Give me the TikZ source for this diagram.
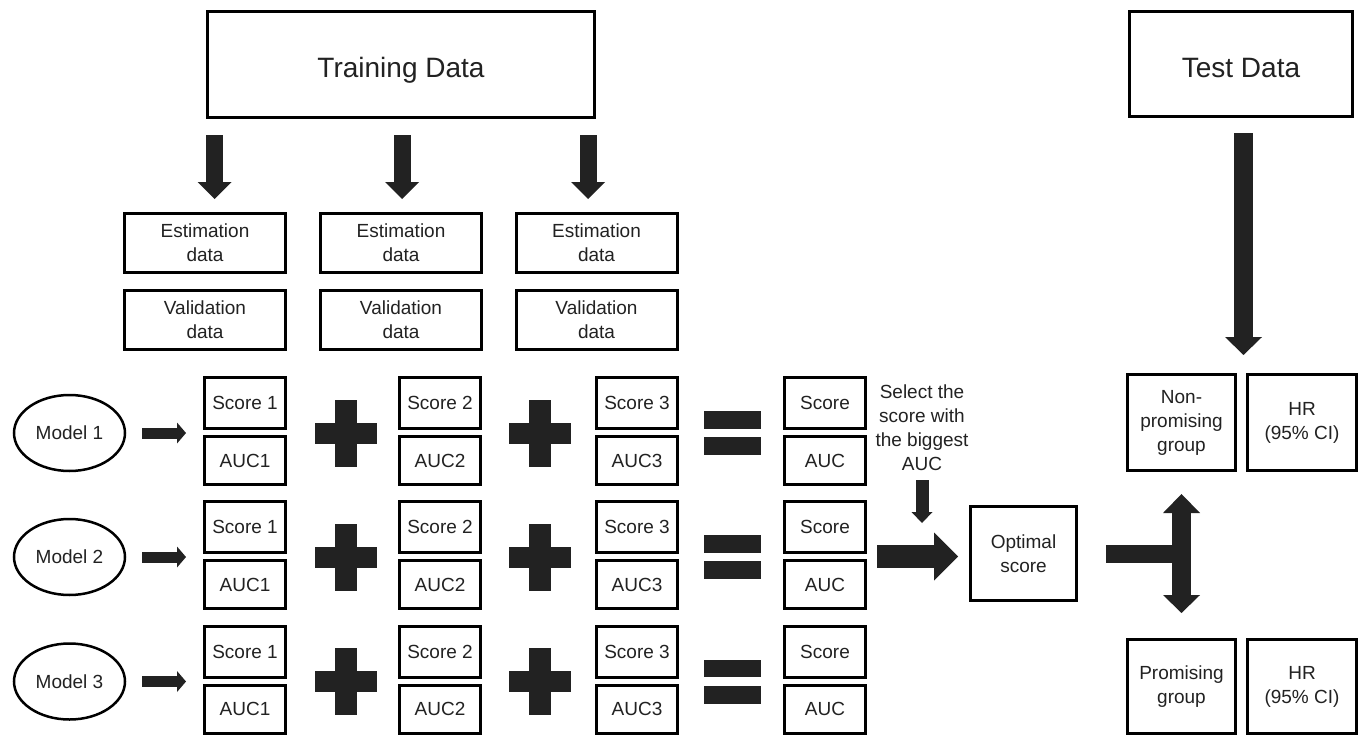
\documentclass[tikz,border=0pt]{standalone}
\usepackage{fontspec}
\setmainfont{Liberation Sans}
\usetikzlibrary{arrows.meta,shapes.geometric,calc}
\definecolor{ink}{HTML}{222222}
\begin{document}
\begin{tikzpicture}[x=1pt,y=-1pt,
  box/.style={draw=black, line width=3pt, inner sep=0pt, align=center, text=ink,
    font=\fontsize{19}{24}\selectfont},
  bigbox/.style={box, font=\fontsize{28}{34}\selectfont, text height=26pt, text depth=0pt},
  databox/.style={box, minimum width=161pt, minimum height=59pt},
  scorebox/.style={box, minimum width=81pt, minimum height=51pt},
  aucbox/.style={box, minimum width=81pt, minimum height=48pt},
  grpbox/.style={box, minimum width=108pt, minimum height=96pt},
  model/.style={draw=black, ellipse, line width=2.5pt, inner sep=0pt, text=ink,
    minimum width=111pt, minimum height=76pt, font=\fontsize{19}{24}\selectfont},
  label/.style={inner sep=0pt, align=center, text=ink, font=\fontsize{19}{24}\selectfont},
  downarrow/.style={draw=ink, line width=17pt, -{Triangle[length=17pt,width=34pt,line width=0pt]}},
  testarrow/.style={draw=ink, line width=19pt, -{Triangle[length=18pt,width=37pt,line width=0pt]}},
  smallarrow/.style={draw=ink, line width=11pt, -{Triangle[length=9pt,width=21pt,line width=0pt]}},
  selarrow/.style={draw=ink, line width=13pt, -{Triangle[length=11pt,width=21pt,line width=0pt]}},
  rightbig/.style={draw=ink, line width=23pt, -{Triangle[length=24pt,width=48pt,line width=0pt]}},
  twoway/.style={draw=ink, line width=19pt, {Triangle[length=19pt,width=37pt,line width=0pt]}-{Triangle[length=18pt,width=37pt,line width=0pt]}},
  stem/.style={draw=ink, line width=18pt},
  plusmark/.pic={\fill[ink] (-31,-10.5) rectangle (31,10.5);
                 \fill[ink] (-11,-33.5) rectangle (11,33.5);},
  equalmark/.pic={\fill[ink] (-28.5,-22) rectangle (28.5,-4.5);
                  \fill[ink] (-28.5,4) rectangle (28.5,22);}
]
\useasboundingbox (0,0) rectangle (1365,736);
\fill[white] (0,0) rectangle (1365,736);

% top boxes
\node[bigbox, minimum width=387pt, minimum height=106pt] (train) at (401,64.5) {Training Data};
\node[bigbox, minimum width=223pt, minimum height=105pt] (test) at (1241,64) {Test Data};

% estimation / validation
\foreach \i/\x in {1/205,2/401,3/596.5}{
  \node[databox] (est\i) at (\x,243) {Estimation\\data};
  \node[databox] (val\i) at (\x,320) {Validation\\data};
}

% rows
\foreach \r/\y in {1/433,2/557,3/681.5}{
  \node[model] (m\r) at (69.5,\y) {Model \r};
  \foreach \c/\x in {1/245,2/440,3/637}{
    \node[scorebox] (s\c r\r) at (\x,\y-30) {Score \c};
    \node[aucbox] (a\c r\r) at (\x,\y+27.5) {AUC\c};
  }
  \node[scorebox] (s4r\r) at (825,\y-30) {Score};
  \node[aucbox] (a4r\r) at (825,\y+27.5) {AUC};
  \pic (p1r\r) at (345.5,\y) {plusmark};
  \pic (p2r\r) at (540,\y) {plusmark};
  \pic (e\r) at (732.5,\y) {equalmark};
  \draw[smallarrow, shorten <=16pt, shorten >=17pt] (m\r.east) -- (m\r.east -| s1r\r.west);
}

% top arrows
\draw[downarrow, shorten <=16pt, shorten >=13pt] ($(train.south)+(-186.5,0)$) -- ($(est1.north)+(9.5,0)$);
\draw[downarrow, shorten <=16pt, shorten >=13pt] ($(train.south)+(1,0)$) -- ($(est2.north)+(1,0)$);
\draw[downarrow, shorten <=16pt, shorten >=13pt] ($(train.south)+(187,0)$) -- ($(est3.north)+(-8.5,0)$);

% selection text and optimal score
\node[label] (sel) at (922,428) {Select the\\score with\\the biggest\\AUC};
\node[box, minimum width=106pt, minimum height=94pt] (opt) at (1023.5,553.5) {Optimal\\score};
\coordinate (selstart) at (922,480);
\coordinate (selend) at (922,523);
\draw[selarrow] (selstart) -- (selend);
\draw[rightbig, shorten <=10pt, shorten >=11pt] ($(s4r2.south east)+(0,2.5)$) -- ($(opt.west |- s4r2.south east)+(0,2.5)$);

% groups
\node[grpbox] (np) at (1181.5,422.5) {Non-\\promising\\group};
\node[grpbox, minimum width=109pt] (hr1) at (1302,422.5) {HR\\(95\% CI)};
\node[grpbox, minimum height=94pt] (pr) at (1181.5,686.5) {Promising\\group};
\node[grpbox, minimum width=109pt, minimum height=94pt] (hr2) at (1302,686.5) {HR\\(95\% CI)};

% test arrow
\draw[testarrow, shorten <=15pt, shorten >=18pt] ($(test.south)+(2.5,0)$) -- ($(test.south |- np.north)+(2.5,0)$);

% T-shaped split arrow
\draw[stem, shorten <=28pt] (opt.east) -- (opt.east -| np.south);
\draw[twoway, shorten <=22pt, shorten >=25pt] (np.south) -- (pr.north);
\end{tikzpicture}
\end{document}
